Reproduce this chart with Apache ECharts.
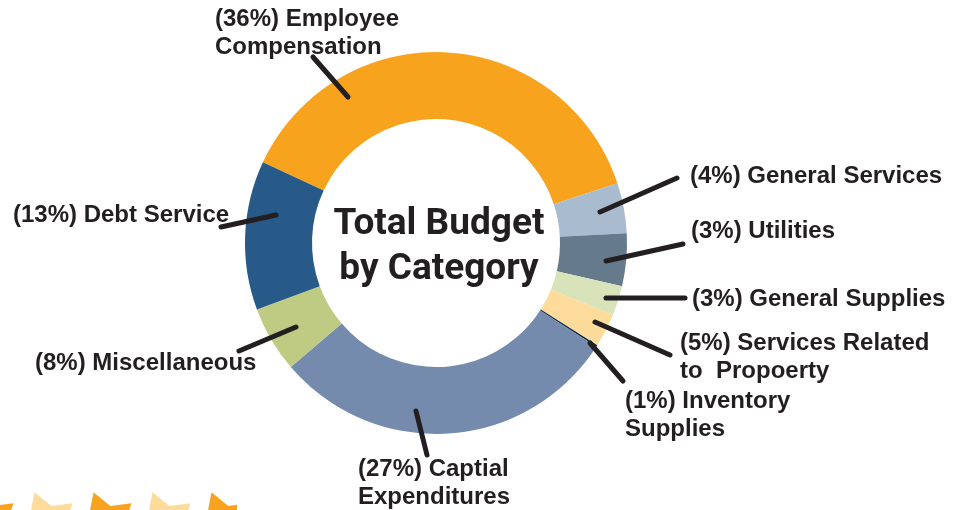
<!DOCTYPE html>
<html>
<head>
<meta charset="utf-8">
<title>Total Budget by Category</title>
<script src="https://cdn.jsdelivr.net/npm/echarts@6/dist/echarts.min.js"></script>
<style>
  * { margin: 0; padding: 0; }
  html, body { width: 953px; height: 510px; background: #fff; overflow: hidden; }
  #main { width: 953px; height: 510px; }
</style>
</head>
<body>
<div id="main"></div>
<script>
// categories, clockwise from the top-left of the ring
var categories = ['Employee\nCompensation', 'General Services', 'Utilities', 'General Supplies',
  'Services Related\nto  Propoerty', 'Inventory\nSupplies', 'Captial\nExpenditures',
  'Miscellaneous', 'Debt Service'];
// percent printed in each label
var labelPct = [36, 4, 3, 3, 5, 1, 27, 8, 13];
// slice sizes (share of 100)
var sliceValues = [38.0, 4.25, 4.45, 2.5, 2.85, 0.15, 29.6, 5.6, 12.6];
var sliceColors = ['#f7a31e', '#a9bccf', '#657b8b', '#d9e3b9', '#fddb9a', '#0b2a45', '#748bae', '#bfcb82', '#275a88'];

// pie geometry
var CX = 436, CY = 243;

// label block top-left and leader line [x1, y1, x2, y2]
var labelPos = [[215, 5], [690, 162], [691, 217], [692, 285], [680, 329], [625, 387], [358, 455], [35, 349], [13, 201]];
var leaderLines = [
  [348, 97, 313, 57], [600, 212, 677, 178], [606, 261, 683, 244], [606, 298, 685, 298],
  [595, 322, 670, 355], [590, 343, 623, 381], [416, 411, 427, 455], [296, 327, 239, 351], [276, 215, 221, 227]
];

var pieData = categories.map(function (name, i) {
  return { name: name, value: sliceValues[i], itemStyle: { color: sliceColors[i] } };
});

// decorative stars along the bottom edge (only their tops show)
function starPoints(cx, cy, R) {
  var pts = [];
  var a0 = Math.atan2(-31.7, -11.4);
  for (var i = 0; i < 10; i++) {
    var r = i % 2 === 0 ? R : R * 0.56;
    var a = a0 + i * Math.PI / 5;
    pts.push([cx + r * Math.cos(a), cy + r * Math.sin(a)]);
  }
  return pts;
}
var starGraphics = [];
[-13, 46, 105, 164, 223].forEach(function (x, k) {
  starGraphics.push({
    type: 'polygon', silent: true, z: 1,
    shape: { points: starPoints(x, 524, 33.7) },
    style: { fill: k % 2 === 0 ? '#f7a31e' : '#fddb9a' }
  });
});
starGraphics.push({
  type: 'rect', silent: true, z: 2,
  shape: { x: 237, y: 470, width: 60, height: 40 },
  style: { fill: '#fff' }
});

var pieBase = {
  type: 'pie',
  center: [CX, CY],
  radius: [124, 191],
  startAngle: 155,
  clockwise: true,
  avoidLabelOverlap: false,
  silent: true
};

var myChart = echarts.init(document.getElementById('main'), null, { renderer: 'canvas' });
myChart.setOption({
  animation: false,
  graphic: starGraphics.concat([{
    type: 'text', silent: true, z: 10,
    x: CX + 3, y: CY + 4,
    style: {
      text: 'Total Budget\nby Category',
      fill: '#231f20',
      font: 'bold 37px Roboto, "DejaVu Sans Condensed", sans-serif',
      lineHeight: 45,
      align: 'center',
      verticalAlign: 'middle'
    }
  }]),
  series: [
    // coloured ring
    echarts.util.extend({
      z: 2,
      data: pieData,
      label: { show: false },
      labelLine: { show: false }
    }, pieBase),
    // same slices, transparent, carrying labels and leader lines on top
    echarts.util.extend({
      z: 3,
      data: pieData.map(function (d) {
        return { name: d.name, value: d.value, itemStyle: { color: 'rgba(0,0,0,0)' } };
      }),
      label: {
        show: true,
        position: 'outside',
        formatter: function (p) {
          return '(' + labelPct[p.dataIndex] + '%) ' + p.name;
        },
        color: '#231f20',
        fontFamily: '"Liberation Sans", Arial, sans-serif',
        fontWeight: 'bold',
        fontSize: 24,
        lineHeight: 28
      },
      labelLine: {
        show: true,
        length: 10,
        length2: 10,
        lineStyle: { color: '#231f20', width: 5, cap: 'round' }
      },
      labelLayout: function (params) {
        var i = params.dataIndex;
        var ln = leaderLines[i];
        return {
          x: labelPos[i][0],
          y: labelPos[i][1],
          align: 'left',
          verticalAlign: 'top',
          labelLinePoints: [[ln[0], ln[1]], [ln[2], ln[3]], [ln[2], ln[3]]]
        };
      }
    }, pieBase)
  ]
});
</script>
</body>
</html>
